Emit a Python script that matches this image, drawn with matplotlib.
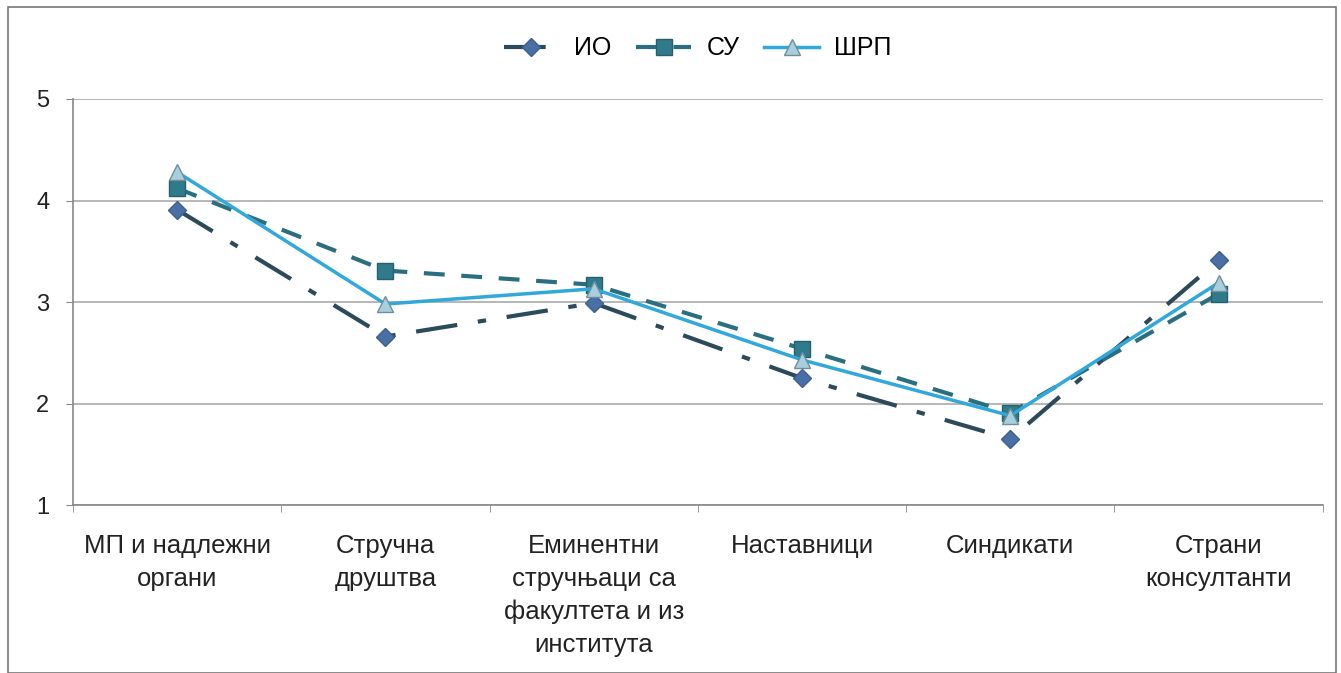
import matplotlib.pyplot as plt
from matplotlib.patches import Rectangle

plt.rcParams['font.family'] = ['Liberation Sans', 'DejaVu Sans']

categories = ['МП и надлежни\nоргани', 'Стручна\nдруштва',
              'Еминентни\nстручњаци са\nфакултета и из\nинститута',
              'Наставници', 'Синдикати', 'Страни\nконсултанти']
io = [3.91, 2.66, 2.99, 2.25, 1.65, 3.41]
su = [4.12, 3.31, 3.17, 2.54, 1.91, 3.08]
shrp = [4.28, 2.98, 3.13, 2.43, 1.88, 3.19]

fig = plt.figure(figsize=(13.41, 6.73), dpi=100)
ax = fig.add_axes([0.0544, 0.2496, 0.932, 0.6033])

x = range(len(categories))
ax.plot(x, io, color='#2b4a5a', linewidth=3, dashes=(10, 5, 2, 5),
        marker='D', markersize=9, markerfacecolor='#4a6fa5',
        markeredgecolor='#3d5f8f', label='ИО')
ax.plot(x, su, color='#2a6f80', linewidth=3, dashes=(5, 4),
        marker='s', markersize=12, markerfacecolor='#2f7b8c',
        markeredgecolor='#275f6e', label='СУ')
ax.plot(x, shrp, color='#30a8dc', linewidth=2.5,
        marker='^', markersize=12, markerfacecolor='#a9cfdc',
        markeredgecolor='#6f8e9a', label='ШРП')

ax.set_xlim(-0.5, len(categories) - 0.5)
ax.set_ylim(1, 5)
ax.set_yticks([1, 2, 3, 4, 5])
ax.set_xticks(x)
ax.set_xticklabels(categories, fontsize=18.5, color='#222222', linespacing=1.45, va='top')
ax.set_xticks([i + 0.5 for i in range(-1, len(categories))], minor=True)
ax.tick_params(axis='x', which='major', length=0, pad=21)
ax.tick_params(axis='x', which='minor', length=5, color='#888888')
ax.tick_params(axis='y', length=5, color='#888888', labelsize=17, labelcolor='#222222', pad=12)
ax.grid(axis='y', color='#aaaaaa', linewidth=1.2)
ax.set_axisbelow(True)
for s in ['top', 'right']:
    ax.spines[s].set_visible(False)
ax.spines['left'].set_color('#888888')
ax.spines['bottom'].set_color('#888888')
ax.spines['left'].set_linewidth(1.2)
ax.spines['bottom'].set_linewidth(1.2)

ax.legend(loc='lower center', bbox_to_anchor=(0.5, 1.04), ncol=3, frameon=False,
          fontsize=18, handlelength=2.2, columnspacing=1.0, handletextpad=0.6)

fig.patches.append(Rectangle((0.006, 0.0), 0.99, 0.99, transform=fig.transFigure,
                             fill=False, edgecolor='#777777', linewidth=1.2))

plt.savefig('out.png', dpi=100)
